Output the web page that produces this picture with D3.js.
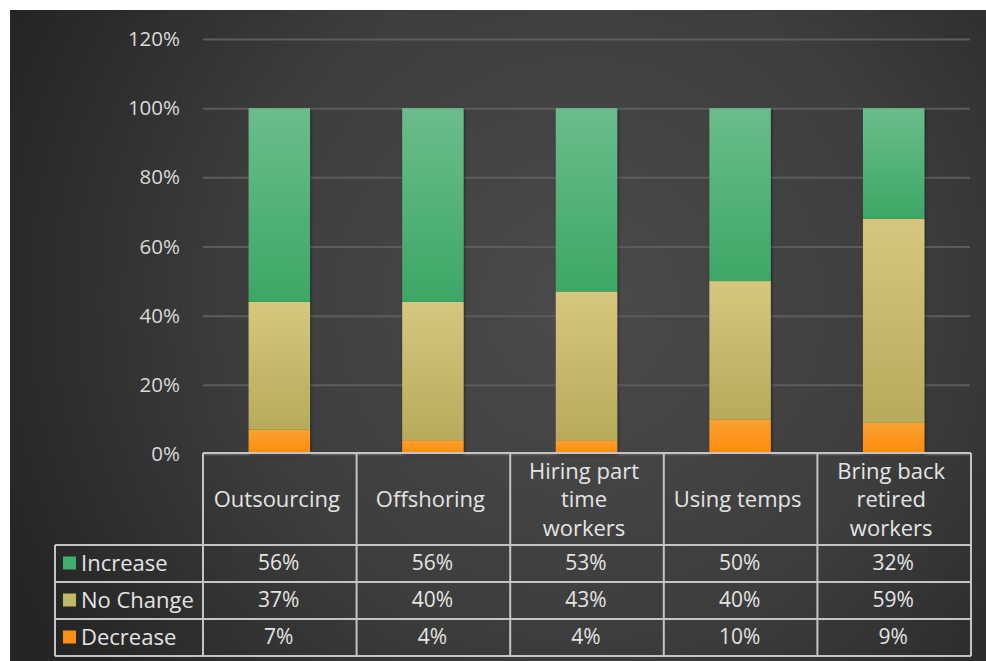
<!DOCTYPE html>
<html>
<head>
<meta charset="utf-8">
<script src="https://cdn.jsdelivr.net/npm/d3@7"></script>
<style>
  html, body { margin: 0; padding: 0; background: #ffffff; }
  svg { display: block; }
</style>
</head>
<body>
<script>
// Workforce strategy survey: share of respondents per response
const categories = ["Outsourcing", "Offshoring", "Hiring part time workers", "Using temps", "Bring back retired workers"];
const categoryLines = [["Outsourcing"], ["Offshoring"], ["Hiring part", "time", "workers"], ["Using temps"], ["Bring back", "retired", "workers"]];
const seriesNames = ["Increase", "No Change", "Decrease"];
const increase = [56, 56, 53, 50, 32];
const noChange = [37, 40, 43, 40, 59];
const decrease = [7, 4, 4, 10, 9];
const yTicks = [0, 20, 40, 60, 80, 100, 120];

const W = 986, H = 661;
const font = "'Open Sans', 'DejaVu Sans', sans-serif";

const rows = categories.map((c, i) => ({
  category: c,
  "Increase": increase[i],
  "No Change": noChange[i],
  "Decrease": decrease[i]
}));
const valuesBySeries = { "Increase": increase, "No Change": noChange, "Decrease": decrease };

const svg = d3.select("body").append("svg")
  .attr("width", W).attr("height", H);

const defs = svg.append("defs");

// dark backdrop, lighter toward the middle
const bg = defs.append("radialGradient").attr("id", "bg")
  .attr("gradientUnits", "userSpaceOnUse")
  .attr("cx", 580).attr("cy", 300).attr("r", 620);
bg.append("stop").attr("offset", "0%").attr("stop-color", "#4b4b4b");
bg.append("stop").attr("offset", "55%").attr("stop-color", "#3d3d3d");
bg.append("stop").attr("offset", "100%").attr("stop-color", "#252525");

const segColors = {
  "Increase": ["#6abd8b", "#3da766"],
  "No Change": ["#d6c77e", "#b7ab5b"],
  "Decrease": ["#f9a232", "#ff8a0a"]
};
const swatch = { "Increase": "#3cb06a", "No Change": "#c4b86a", "Decrease": "#f98f17" };

Object.entries(segColors).forEach(([k, [top, bot]], i) => {
  const g = defs.append("linearGradient").attr("id", "seg" + i)
    .attr("x1", 0).attr("y1", 0).attr("x2", 0).attr("y2", 1);
  g.append("stop").attr("offset", "0%").attr("stop-color", top);
  g.append("stop").attr("offset", "100%").attr("stop-color", bot);
});

const shadow = defs.append("filter").attr("id", "shadow")
  .attr("x", "-20%").attr("y", "-5%").attr("width", "140%").attr("height", "110%");
shadow.append("feDropShadow").attr("dx", 1).attr("dy", 1).attr("stdDeviation", 1.5)
  .attr("flood-color", "#000").attr("flood-opacity", 0.45);

const soft = defs.append("filter").attr("id", "soft");
soft.append("feGaussianBlur").attr("stdDeviation", 0.35);

svg.append("rect")
  .attr("x", 10).attr("y", 10).attr("width", W - 10).attr("height", H - 10)
  .attr("fill", "url(#bg)");

// scales
const plotLeft = 203, plotRight = 971;
const x = d3.scaleBand().domain(categories).range([plotLeft, plotRight])
  .paddingInner(0.6).paddingOuter(0.3);
const col = d3.scaleBand().domain(categories).range([plotLeft, plotRight]).padding(0);
const y = d3.scaleLinear().domain([0, 120]).range([454, 39]);

// gridlines and value axis
const yAxis = d3.axisLeft(y).tickValues(yTicks).tickFormat(d => d + "%")
  .tickSize(-(plotRight - 1 - plotLeft)).tickPadding(23);
const ga = svg.append("g").attr("transform", `translate(${plotLeft},0)`).call(yAxis);
ga.select(".domain").remove();
ga.selectAll(".tick line").attr("stroke", "#5c5c5c").attr("stroke-width", 2);
ga.selectAll(".tick text")
  .attr("fill", "#dadada").attr("font-family", font).attr("font-size", 20.5);

// stacked bars
const keys = ["Decrease", "No Change", "Increase"];
const stacked = d3.stack().keys(keys)(rows);
const barG = svg.append("g").attr("filter", "url(#shadow)");
stacked.forEach(layer => {
  const gi = seriesNames.indexOf(layer.key);
  barG.append("g").selectAll("rect").data(layer).join("rect")
    .attr("x", d => x(d.data.category) - 0.5)
    .attr("width", x.bandwidth())
    .attr("y", d => y(d[1]))
    .attr("height", d => y(d[0]) - y(d[1]))
    .attr("fill", `url(#seg${gi})`);
});

// data table
const lineColor = "#c4c4c4";
const tbl = svg.append("g").attr("filter", "url(#soft)");
const headTop = 453, headBottom = 545, rowH = 37, tblLeft = 55;
const rowTops = seriesNames.map((_, i) => headBottom + i * rowH);
const tblBottom = headBottom + seriesNames.length * rowH;

const lines = [];
lines.push([plotLeft, headTop, plotRight, headTop]);
[headBottom, ...rowTops.slice(1), tblBottom].forEach(yy => lines.push([tblLeft, yy, plotRight, yy]));
lines.push([tblLeft, headBottom, tblLeft, tblBottom]);
const colEdges = categories.map(c => col(c)).concat([plotRight]);
colEdges.forEach(xx => lines.push([xx, headTop, xx, tblBottom]));

tbl.selectAll("line").data(lines).join("line")
  .attr("x1", d => d[0]).attr("y1", d => d[1])
  .attr("x2", d => d[2]).attr("y2", d => d[3])
  .attr("stroke", lineColor).attr("stroke-width", 2);

const txt = svg.append("g").attr("font-family", font).attr("fill", "#e4e4e4").attr("font-size", 22);

// category header cells
categories.forEach((c, i) => {
  const cx = col(c) + col.bandwidth() / 2 - 3;
  const ls = categoryLines[i];
  const lh = 28.5;
  const mid = (headTop + headBottom) / 2 - 1;
  ls.forEach((t, j) => {
    txt.append("text")
      .attr("x", cx)
      .attr("y", mid + (j - (ls.length - 1) / 2) * lh)
      .attr("text-anchor", "middle")
      .attr("dominant-baseline", "central")
      .text(t);
  });
});

// legend keys and values
seriesNames.forEach((s, r) => {
  const top = rowTops[r];
  const mid = top + rowH / 2;
  svg.append("rect")
    .attr("x", 63).attr("y", mid - 7).attr("width", 13).attr("height", 13)
    .attr("fill", swatch[s]);
  txt.append("text")
    .attr("x", 81).attr("y", mid - 2)
    .attr("dominant-baseline", "central")
    .text(s);
  valuesBySeries[s].forEach((v, i) => {
    txt.append("text")
      .attr("x", col(categories[i]) + col.bandwidth() / 2 - 1)
      .attr("y", mid - 2)
      .attr("text-anchor", "middle")
      .attr("dominant-baseline", "central")
      .attr("font-size", 21)
      .text(v + "%");
  });
});
</script>
</body>
</html>
